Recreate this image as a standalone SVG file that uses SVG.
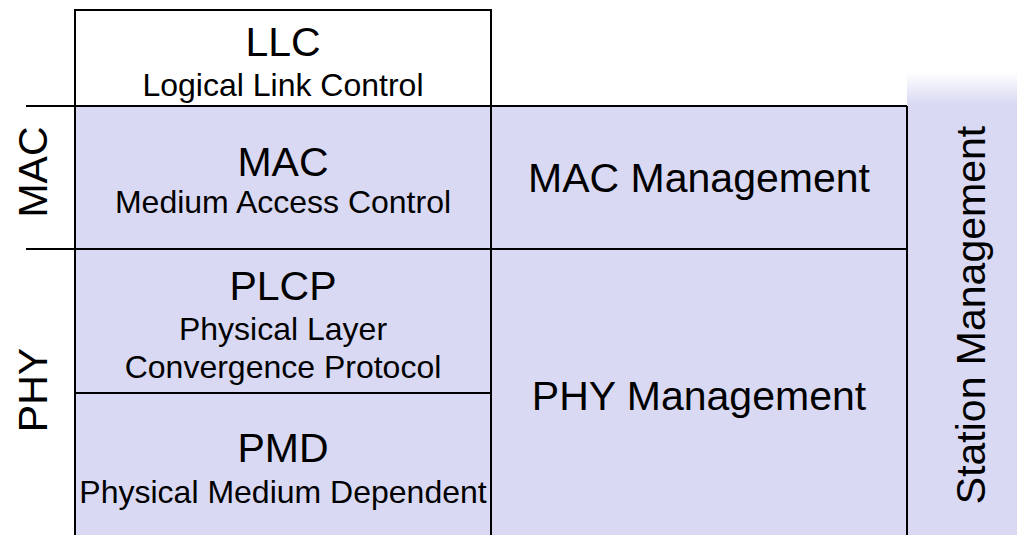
<svg xmlns="http://www.w3.org/2000/svg" width="1017" height="535" viewBox="0 0 1017 535">
<defs>
<linearGradient id="fade" x1="0" y1="0" x2="0" y2="1">
<stop offset="0" stop-color="#D9D9F3" stop-opacity="0"/>
<stop offset="1" stop-color="#D9D9F3"/>
</linearGradient>
</defs>
<style>
text{font-family:"Liberation Sans",Arial,sans-serif;fill:#000;text-anchor:middle}
.t{font-size:41px}
.s{font-size:32px}
.fill{fill:#D9D9F3}
.ln{stroke:#000;stroke-width:2;fill:none}
</style>
<rect width="1017" height="535" fill="#fff"/>
<g id="station-management">
<rect x="907" y="72" width="110" height="32" fill="url(#fade)"/>
<rect class="fill" x="907" y="103" width="110" height="432"/>
<text class="t" transform="translate(985,315) rotate(-90)">Station Management</text>
</g>
<g id="llc">
<rect x="75" y="10" width="416" height="96" fill="#fff" class="ln"/>
<text class="t" x="283" y="56">LLC</text>
<text class="s" x="283" y="96">Logical Link Control</text>
</g>
<g id="mac">
<rect class="fill" x="75" y="106" width="416" height="143"/>
<text class="t" x="283" y="176">MAC</text>
<text class="s" x="283" y="213">Medium Access Control</text>
</g>
<g id="plcp">
<rect class="fill" x="75" y="249" width="416" height="144"/>
<text class="t" x="283" y="300">PLCP</text>
<text class="s" x="283" y="340">Physical Layer</text>
<text class="s" x="283" y="378">Convergence Protocol</text>
</g>
<g id="pmd">
<rect class="fill" x="75" y="393" width="416" height="142"/>
<text class="t" x="283" y="462">PMD</text>
<text class="s" x="283" y="503">Physical Medium Dependent</text>
</g>
<g id="mac-management">
<rect class="fill" x="491" y="106" width="416" height="143"/>
<text class="t" x="699" y="192">MAC Management</text>
</g>
<g id="phy-management">
<rect class="fill" x="491" y="249" width="416" height="286"/>
<text class="t" x="699" y="410">PHY Management</text>
</g>
<g id="mac-label">
<text class="t" transform="translate(47,172) rotate(-90)">MAC</text>
</g>
<g id="phy-label">
<text class="t" transform="translate(47,390) rotate(-90)">PHY</text>
</g>
<g id="connectors" class="ln">
<line x1="26" y1="106" x2="907" y2="106"/>
<line x1="26" y1="249" x2="907" y2="249"/>
<line x1="75" y1="393" x2="491" y2="393"/>
<line x1="75" y1="10" x2="75" y2="535"/>
<line x1="491" y1="10" x2="491" y2="535"/>
<line x1="907" y1="106" x2="907" y2="535"/>
</g>
</svg>
